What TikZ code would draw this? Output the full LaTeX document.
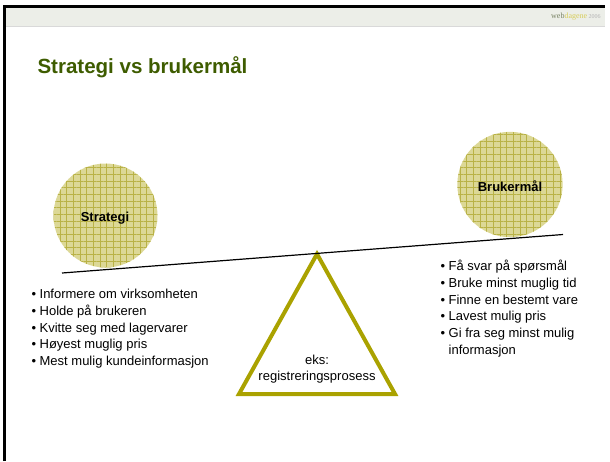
\documentclass[tikz,border=0pt]{standalone}
\usepackage{fontspec}
\setmainfont{Liberation Sans}
\newfontfamily\headserif{Liberation Serif}
\usetikzlibrary{patterns.meta}

\definecolor{titlegreen}{RGB}{62,92,0}
\definecolor{beamolive}{RGB}{170,162,0}
\definecolor{ballfill}{RGB}{220,216,150}
\definecolor{ballgrid}{RGB}{185,178,70}
\definecolor{barfill}{RGB}{236,238,232}
\definecolor{webgrey}{RGB}{120,130,100}
\definecolor{webyellow}{RGB}{215,205,90}

\tikzset{every picture/.style={line width=0.75pt}}
\tikzset{
  ball/.style={fill=ballfill},
  ballhatch/.style={pattern={Hatch[angle=0,distance=5pt,line width=0.5pt]},pattern color=ballgrid},
  listtext/.style={anchor=north west,align=left,inner sep=0pt,font=\fontsize{9.75}{12.5}\selectfont},
}

\begin{document}
\begin{tikzpicture}[x=0.75pt,y=0.75pt,yscale=-1,xscale=1]
\useasboundingbox (0,0) rectangle (610,461);

%Shape: Rectangle -- header bar
\fill[barfill] (6,8) rectangle (605,26);
\draw[black!15,line width=0.5pt] (6,26) -- (605,26);
%Straight Lines -- frame
\draw[line width=2.5pt] (4.5,461) -- (4.5,6.5) -- (605,6.5);

% Text Node
\node[anchor=east,inner sep=0pt,font=\headserif\fontsize{6}{6}\selectfont] (logo) at (601,17)
  {\textcolor{webgrey}{web}\textcolor{webyellow}{dagene}\,\textcolor{black!30}{\fontsize{4.5}{4.5}\selectfont 2006}};
% Text Node
\node[anchor=base west,inner sep=0pt,text=titlegreen,font=\bfseries\fontsize{15.4}{17}\selectfont] (title) at (37,73) {Strategi vs brukermål};

%Shape: Circle
\fill[ball] (105.5,215.5) circle (39pt);
\fill[ballhatch] (105.5,215.5) circle (39pt);
%Shape: Circle
\fill[ball] (510,184.5) circle (39.5pt);
\fill[ballhatch] (510,184.5) circle (39.5pt);

% Text Node
\node[font=\bfseries\fontsize{9.75}{12}\selectfont] (strategi) at (105,218) {Strategi};
% Text Node
\node[font=\bfseries\fontsize{9.75}{12}\selectfont] (bruker) at (510,186) {Brukermål};

%Shape: Triangle
\draw[beamolive,line width=3pt,line join=miter] (317,254) -- (395,394) -- (239,394) -- cycle;
%Straight Lines -- beam
\coordinate (beamL) at (62,273);
\coordinate (beamR) at (563,234.5);
\draw[line width=0.9pt] (beamL) -- (beamR);

% Text Node
\node[align=center,inner sep=0pt,font=\fontsize{9.75}{12.5}\selectfont] (eks) at (317,369) {eks:\\registreringsprosess};

% Text Node
\node[listtext] (strategilist) at (31,289) {%
\textbullet\ Informere om virksomheten\\
\textbullet\ Holde på brukeren\\
\textbullet\ Kvitte seg med lagervarer\\
\textbullet\ Høyest muglig pris\\
\textbullet\ Mest mulig kundeinformasjon};
% Text Node
\node[listtext] (brukerlist) at (440,260) {%
\textbullet\ Få svar på spørsmål\\
\textbullet\ Bruke minst muglig tid\\
\textbullet\ Finne en bestemt vare\\
\textbullet\ Lavest mulig pris\\
\textbullet\ Gi fra seg minst mulig\\
\phantom{\textbullet\ }informasjon};

\end{tikzpicture}
\end{document}
